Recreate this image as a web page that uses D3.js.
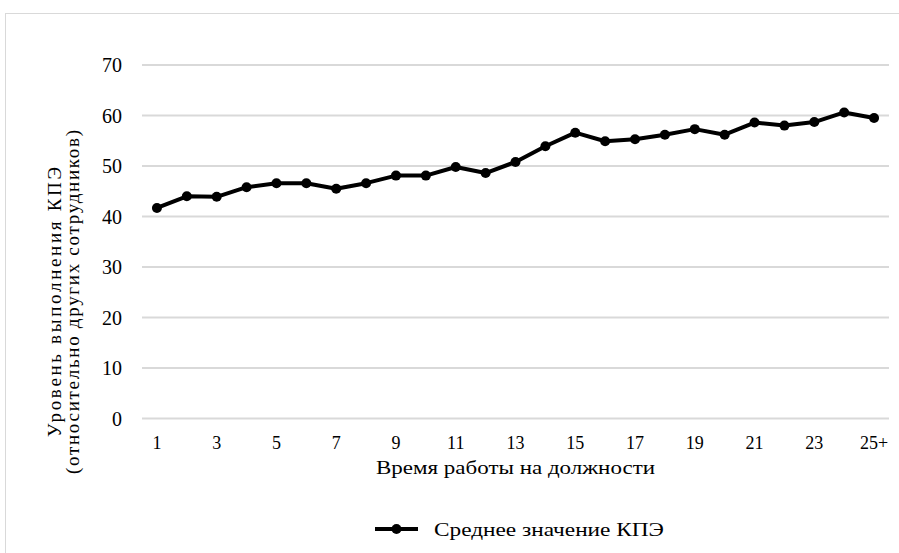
<!DOCTYPE html>
<html>
<head>
<meta charset="utf-8">
<script src="https://cdn.jsdelivr.net/npm/d3@7"></script>
<style>
    body { margin: 0; background: #fff; }
</style>
</head>
<body>
<div id="chart"></div>
<script>
// Categories (years on the position) and mean KPI values
const categories = ["1", "2", "3", "4", "5", "6", "7", "8", "9", "10", "11", "12", "13",
    "14", "15", "16", "17", "18", "19", "20", "21", "22", "23", "24", "25+"];
const kpiValues = [41.7, 44.0, 43.9, 45.8, 46.6, 46.6, 45.5, 46.6, 48.1, 48.1, 49.8, 48.6, 50.8,
    53.9, 56.6, 54.9, 55.3, 56.2, 57.3, 56.2, 58.6, 58.0, 58.7, 60.6, 59.5];
const yTicks = [0, 10, 20, 30, 40, 50, 60, 70];
const xTickLabels = ["1", "3", "5", "7", "9", "11", "13", "15", "17", "19", "21", "23", "25+"];

const seriesName = "Среднее значение КПЭ";
const xTitle = "Время работы на должности";
const yTitle1 = "Уровень выполнения КПЭ";
const yTitle2 = "(относительно других сотрудников)";

const width = 899;
const height = 553;

const svg = d3.select("#chart")
    .append("svg")
    .attr("width", width)
    .attr("height", height)
    .attr("font-family", "Liberation Serif, Times New Roman, serif");

// Outer frame (only top and left edges visible)
svg.append("rect")
    .attr("x", 5.5)
    .attr("y", 13.5)
    .attr("width", width + 20)
    .attr("height", height + 20)
    .attr("fill", "none")
    .attr("stroke", "#d9d9d9")
    .attr("stroke-width", 1);

const x = d3.scaleBand()
    .domain(categories)
    .range([142, 889]);

const y = d3.scaleLinear()
    .domain([0, 70])
    .range([418.5, 65]);

const cx = (d, i) => x(categories[i]) + x.bandwidth() / 2;

// Gridlines
svg.append("g")
    .selectAll("line")
    .data(yTicks)
    .enter()
    .append("line")
    .attr("x1", 142)
    .attr("x2", 889)
    .attr("y1", d => y(d))
    .attr("y2", d => y(d))
    .attr("stroke", "#d9d9d9")
    .attr("stroke-width", 2);

// Y tick labels
svg.append("g")
    .selectAll("text")
    .data(yTicks)
    .enter()
    .append("text")
    .attr("x", 122)
    .attr("y", d => y(d))
    .attr("dy", "0.35em")
    .attr("text-anchor", "end")
    .attr("font-size", 20)
    .text(d => d);

// X tick labels (every other category)
svg.append("g")
    .selectAll("text")
    .data(xTickLabels)
    .enter()
    .append("text")
    .attr("x", d => x(d) + x.bandwidth() / 2)
    .attr("y", 449)
    .attr("text-anchor", "middle")
    .attr("font-size", 18)
    .text(d => d);

// Axis titles
svg.append("text")
    .attr("x", 376)
    .attr("y", 474)
    .attr("textLength", 279)
    .attr("lengthAdjust", "spacingAndGlyphs")
    .attr("font-size", 19)
    .text(xTitle);

const yTitle = svg.append("g")
    .attr("transform", "translate(0, 302) rotate(-90)")
    .attr("font-size", 19);
yTitle.append("text")
    .attr("x", -135)
    .attr("y", 61)
    .attr("textLength", 270)
    .attr("lengthAdjust", "spacing")
    .text(yTitle1);
yTitle.append("text")
    .attr("x", -172)
    .attr("y", 79)
    .attr("textLength", 344)
    .attr("lengthAdjust", "spacing")
    .text(yTitle2);

// Line
const line = d3.line()
    .x(cx)
    .y(d => y(d));

svg.append("path")
    .datum(kpiValues)
    .attr("d", line)
    .attr("fill", "none")
    .attr("stroke", "#000")
    .attr("stroke-width", 4)
    .attr("stroke-linejoin", "round");

svg.append("g")
    .selectAll("circle")
    .data(kpiValues)
    .enter()
    .append("circle")
    .attr("cx", cx)
    .attr("cy", d => y(d))
    .attr("r", 5)
    .attr("fill", "#000");

// Legend
const legend = svg.append("g").attr("transform", "translate(375, 529)");
legend.append("line")
    .attr("x1", 0)
    .attr("x2", 43)
    .attr("stroke", "#000")
    .attr("stroke-width", 4);
legend.append("circle")
    .attr("cx", 21.5)
    .attr("r", 5)
    .attr("fill", "#000");
legend.append("text")
    .attr("x", 59)
    .attr("dy", "0.35em")
    .attr("textLength", 230)
    .attr("lengthAdjust", "spacingAndGlyphs")
    .attr("font-size", 19)
    .text(seriesName);
</script>
</body>
</html>
